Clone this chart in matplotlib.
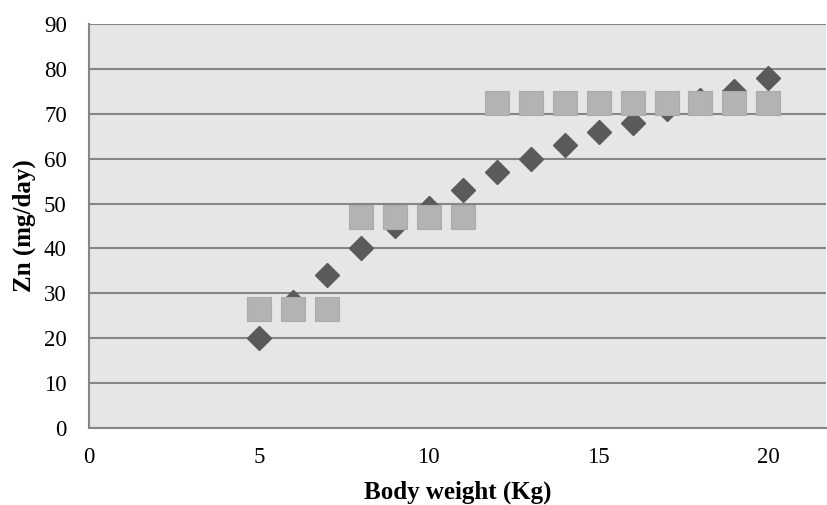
import matplotlib.pyplot as plt

# data
weight = [5, 6, 7, 8, 9, 10, 11, 12, 13, 14, 15, 16, 17, 18, 19, 20]
zn_model = [20, 28, 34, 40, 45, 49, 53, 57, 60, 63, 66, 68, 71, 73, 75, 78]
zn_rda = [26.5, 26.5, 26.5, 47, 47, 47, 47, 72.5, 72.5, 72.5, 72.5, 72.5, 72.5, 72.5, 72.5, 72.5]

plt.rcParams['font.family'] = ['Liberation Serif', 'DejaVu Serif']

fig = plt.figure(figsize=(8.27, 5.05), dpi=100)
ax = fig.add_axes([0.1076, 0.1525, 0.8914, 0.80])
ax.set_facecolor('#e6e6e6')

ax.plot(weight, zn_model, linestyle='none', marker='D', markersize=12,
        color='#5a5a5a', zorder=3)
ax.plot(weight, zn_rda, linestyle='none', marker='s', markersize=17,
        markerfacecolor='#b3b3b3', markeredgecolor='#aaaaaa', markeredgewidth=0.8, zorder=4)

ax.set_xlim(0, 21.7)
ax.set_ylim(0, 90)
ax.set_xticks([0, 5, 10, 15, 20])
ax.set_yticks(range(0, 91, 10))
ax.yaxis.grid(True, color='#868686', linewidth=1.5)
ax.set_axisbelow(True)
ax.tick_params(length=0, labelsize=16.5)
ax.tick_params(axis='x', pad=14)
ax.tick_params(axis='y', pad=16)

for side in ['top', 'right']:
    ax.spines[side].set_visible(False)
ax.spines['left'].set_color('#868686')
ax.spines['left'].set_linewidth(1.5)
ax.spines['bottom'].set_color('#868686')
ax.spines['bottom'].set_linewidth(1.5)

ax.set_xlabel('Body weight (Kg)', fontsize=18, fontweight='bold', labelpad=9)
ax.set_ylabel('Zn (mg/day)', fontsize=18, fontweight='bold', labelpad=6)

fig.savefig('out.png', dpi=100)
